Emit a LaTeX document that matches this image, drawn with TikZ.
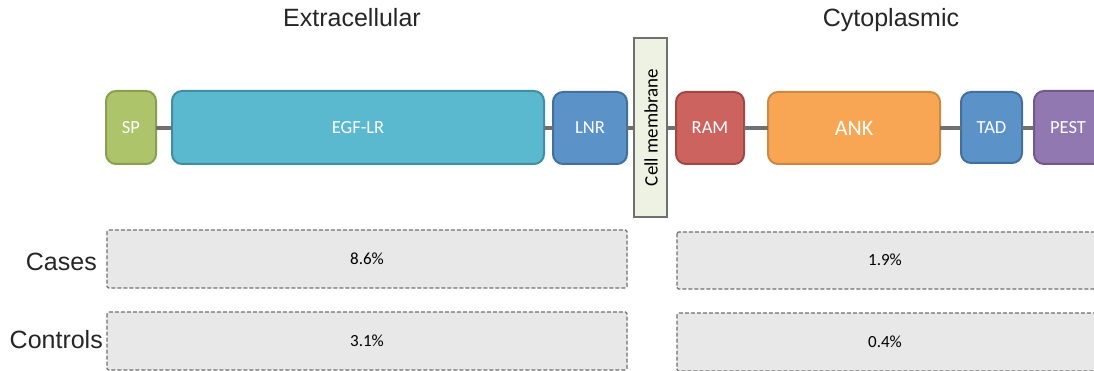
\documentclass[tikz,border=0pt]{standalone}
\usepackage{fontspec}
\setmainfont{Liberation Sans}
\newfontfamily\calfont{Carlito}
\definecolor{spF}{HTML}{AEC46B}\definecolor{spD}{HTML}{8AA04F}
\definecolor{egF}{HTML}{5AB8CF}\definecolor{egD}{HTML}{3F8FA3}
\definecolor{lnF}{HTML}{5B92C8}\definecolor{lnD}{HTML}{41709C}
\definecolor{raF}{HTML}{CD635F}\definecolor{raD}{HTML}{A14845}
\definecolor{anF}{HTML}{F9A654}\definecolor{anD}{HTML}{CC893F}
\definecolor{peF}{HTML}{9278B0}\definecolor{peD}{HTML}{70598C}
\definecolor{memF}{HTML}{EEF2E2}
\definecolor{grayL}{HTML}{707070}
\definecolor{boxF}{HTML}{E8E8E8}
\tikzset{
  dom/.style={rounded corners=10pt, line width=2pt},
  domtxt/.style={font=\calfont\fontsize{18.5}{20}\selectfont, text=white},
  link/.style={draw=grayL, line width=4.2pt},
  res/.style={draw=grayL, fill=boxF, dash pattern=on 4pt off 2pt, line width=1.2pt, rounded corners=1.5pt},
  pct/.style={font=\calfont\fontsize{17}{19}\selectfont, text=black},
  lbl/.style={font=\fontsize{25}{28}\selectfont, text=black!85}
}
\begin{document}
\begin{tikzpicture}[x=1pt,y=-1pt]
\clip (0,0) rectangle (1094,371);
\fill[white] (0,0) rectangle (1094,371);
% domain boxes
\path[dom, draw=spD, fill=spF] (106,91) rectangle (156,164);
\node[domtxt] (sp) at (131,127.5) {SP};
\coordinate (spE) at (156,128);
\path[dom, draw=egD, fill=egF] (172,91) rectangle (544,164);
\node[domtxt] (egf) at (358,127.5) {EGF-LR};
\coordinate (egfW) at (172,128); \coordinate (egfE) at (544,128);
\path[dom, draw=lnD, fill=lnF] (553,92) rectangle (627,164);
\node[domtxt] (lnr) at (590,127.5) {LNR};
\coordinate (lnrW) at (553,128); \coordinate (lnrE) at (627,128);
\path[draw=grayL, fill=memF, line width=1.3pt] (634,38) rectangle (667,217);
\node[rotate=90, font=\calfont\fontsize{19}{20}\selectfont, text=black] (mem) at (651,127.5) {Cell membrane};
\coordinate (memW) at (634,128); \coordinate (memE) at (667,128);
\path[dom, draw=raD, fill=raF] (676,92) rectangle (744,164);
\node[domtxt] (ram) at (710,127.5) {RAM};
\coordinate (ramW) at (676,128); \coordinate (ramE) at (744,128);
\path[dom, draw=anD, fill=anF] (768,92) rectangle (940,164);
\node[font=\calfont\fontsize{22}{24}\selectfont, text=white] (ank) at (854,128) {ANK};
\coordinate (ankW) at (768,128); \coordinate (ankE) at (940,128);
\path[dom, draw=lnD, fill=lnF] (961,92) rectangle (1022,163);
\node[domtxt] (tad) at (991.5,127.5) {TAD};
\coordinate (tadW) at (961,128); \coordinate (tadE) at (1022,128);
\path[dom, draw=peD, fill=peF] (1034,91) rectangle (1110,164);
\node[domtxt] (pest) at (1068,127.5) {PEST};
\coordinate (pestW) at (1034,128);
% links
\draw[link] (spE) -- (egfW);
\draw[link] (egfE) -- (lnrW);
\draw[link] (lnrE) -- (memW);
\draw[link] (memE) -- (ramW);
\draw[link] (ramE) -- (ankW);
\draw[link] (ankE) -- (tadW);
\draw[link] (tadE) -- (pestW);
% titles
\node[lbl, anchor=base] (extra) at (352,27) {Extracellular};
\node[lbl, anchor=base] (cyto) at (891,27) {Cytoplasmic};
% result boxes
\path[res] (107,230) rectangle (627,288);
\path[res] (677,232) rectangle (1110,289);
\path[res] (107,312) rectangle (627,370);
\path[res] (677,313) rectangle (1110,371);
\node[pct] (c1) at (367,259) {8.6\%};
\node[pct] (c2) at (885,260) {1.9\%};
\node[pct] (k1) at (367,341) {3.1\%};
\node[pct] (k2) at (885,342) {0.4\%};
\node[lbl, anchor=base east, inner sep=0pt] (cases) at (97,270) {Cases};
\node[lbl, anchor=base east, inner sep=0pt] (controls) at (103,348) {Controls};
\end{tikzpicture}
\end{document}
